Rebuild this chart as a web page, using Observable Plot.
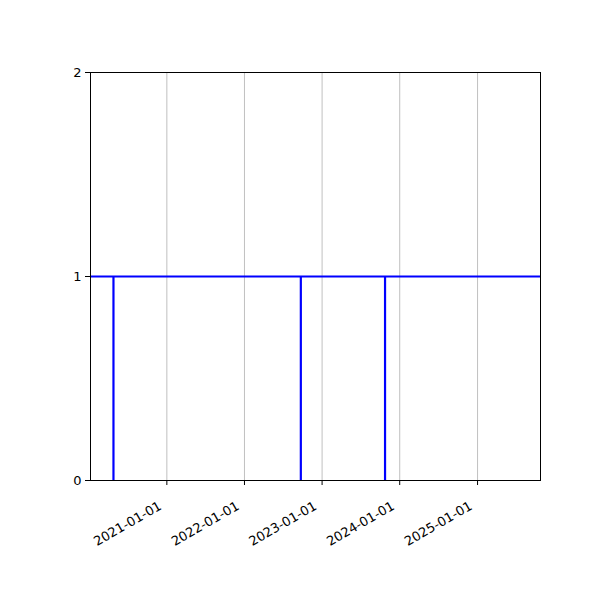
<!DOCTYPE html>
<html>
<head>
<meta charset="utf-8">
<script src="https://cdn.jsdelivr.net/npm/d3@7"></script>
<script src="https://cdn.jsdelivr.net/npm/@observablehq/plot@0.6"></script>
<style>
  html, body { margin: 0; padding: 0; background: #fff; }
  #chart svg { display: block; }
</style>
</head>
<body>
<div id="chart"></div>
<script>
// Data
const eventDates = ["2020-04-25", "2022-09-23", "2023-10-24"];
const eventValues = [1, 1, 1];
const baselineValue = 1;
const xDomain = ["2020-01-08", "2025-10-24"];
const xTickDates = ["2021-01-01", "2022-01-01", "2023-01-01", "2024-01-01", "2025-01-01"];
const yTicks = [0, 1, 2];

const parse = d3.utcParse("%Y-%m-%d");
const events = eventDates.map((d, i) => ({date: parse(d), value: eventValues[i]}));
const xTicks = xTickDates.map(parse);

const chart = Plot.plot({
  width: 600,
  height: 600,
  marginLeft: 90,
  marginRight: 60,
  marginTop: 72,
  marginBottom: 120,
  style: {fontFamily: "DejaVu Sans", fontSize: "13px", color: "black", background: "white"},
  x: {type: "utc", domain: xDomain.map(parse)},
  y: {domain: [0, 2]},
  marks: [
    Plot.gridX(xTicks, {stroke: "#b0b0b0", strokeOpacity: 1, strokeWidth: 0.8}),
    Plot.ruleY([baselineValue], {stroke: "blue", strokeWidth: 2}),
    Plot.ruleX(events, {x: "date", y1: 0, y2: "value", stroke: "blue", strokeWidth: 2.2}),
    Plot.frame({stroke: "black", strokeWidth: 1}),
    Plot.axisX(xTicks, {
      tickFormat: d3.utcFormat("%Y-%m-%d"),
      tickSize: 5,
      label: null,
      text: null
    }),
    Plot.text(xTicks, {
      x: d => d,
      frameAnchor: "bottom",
      text: d3.utcFormat("%Y-%m-%d"),
      rotate: -30,
      textAnchor: "end",
      lineAnchor: "top",
      dx: -9,
      dy: 20,
      fontSize: 13
    }),
    Plot.axisY(yTicks, {
      tickSize: 5,
      tickPadding: 4,
      label: null,
      tickFormat: d3.format("d"),
      fontSize: 13
    })
  ]
});
document.getElementById("chart").appendChild(chart);
</script>
</body>
</html>
